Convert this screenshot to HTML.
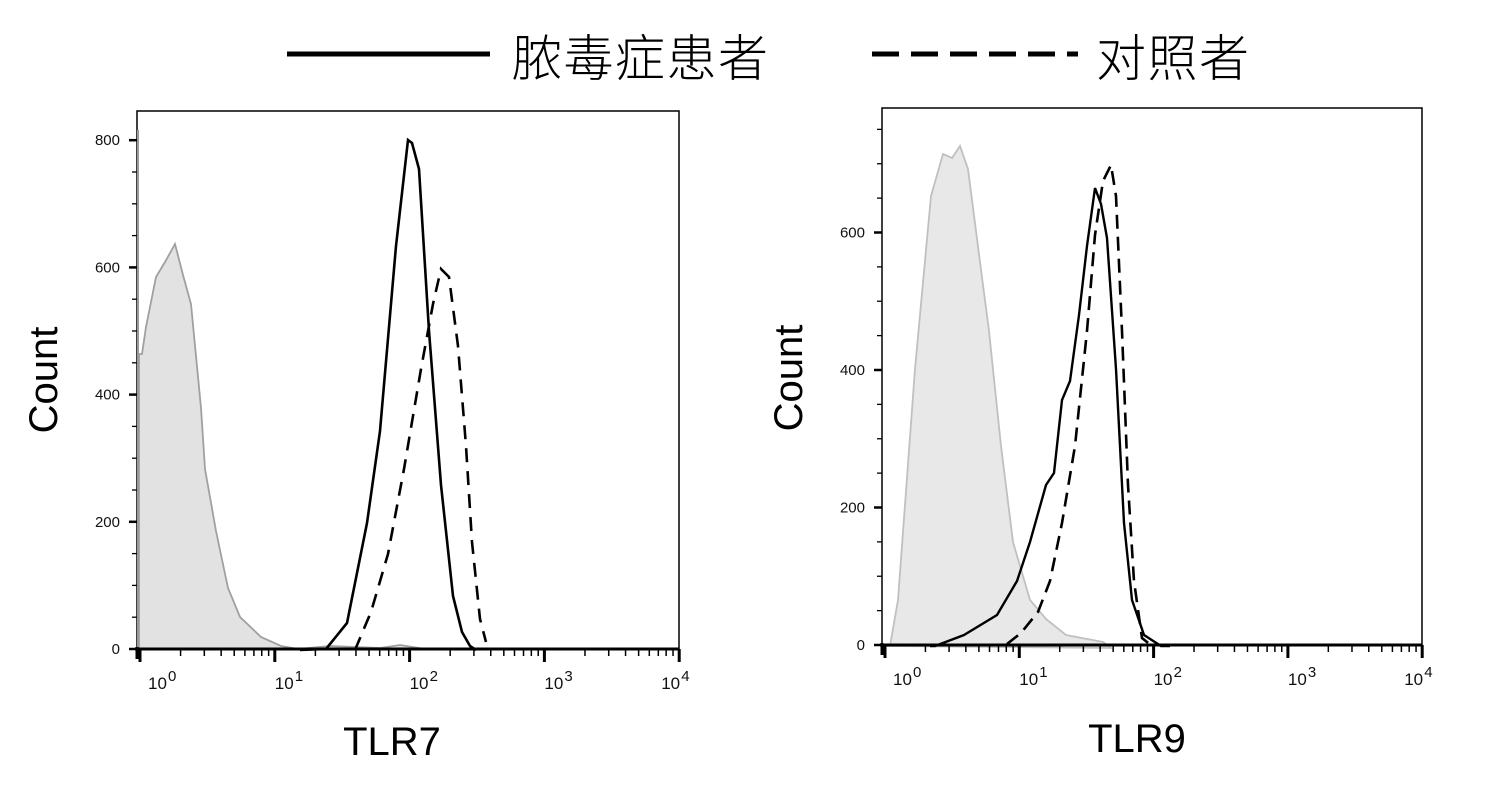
<!DOCTYPE html>
<html><head><meta charset="utf-8"><style>
html,body{margin:0;padding:0;background:#fff}
svg{display:block}
</style></head><body>
<svg id="s" width="1489" height="793" xmlns="http://www.w3.org/2000/svg" font-family="Liberation Sans, sans-serif">
<defs><filter id="sh"><feGaussianBlur stdDeviation="2"/></filter></defs>
<line x1="288" y1="58" x2="490" y2="58" stroke="#bbb" stroke-width="6" filter="url(#sh)"/>
<line x1="287" y1="54" x2="490" y2="54" stroke="#000" stroke-width="5"/>
<text x="512" y="76" font-size="50" letter-spacing="1.5" font-family="Liberation Sans, Noto Sans CJK SC, sans-serif" font-weight="300">脓毒症患者</text>
<line x1="873" y1="58" x2="1078" y2="58" stroke="#bbb" stroke-width="6" stroke-dasharray="27,12" filter="url(#sh)"/>
<line x1="872" y1="54" x2="1078" y2="54" stroke="#000" stroke-width="5" stroke-dasharray="27,12"/>
<text x="1096" y="76" font-size="50" letter-spacing="1.5" font-family="Liberation Sans, Noto Sans CJK SC, sans-serif" font-weight="300">对照者</text>
<text transform="translate(57,380) rotate(-90)" text-anchor="middle" font-size="40">Count</text>
<text transform="translate(802,378) rotate(-90)" text-anchor="middle" font-size="40">Count</text>
<text x="392" y="755" text-anchor="middle" font-size="40">TLR7</text>
<text x="1137" y="752" text-anchor="middle" font-size="40">TLR9</text>
<rect x="137" y="111" width="542" height="538" fill="none" stroke="#000" stroke-width="1.5"/>
<rect x="882" y="108" width="540" height="537" fill="none" stroke="#000" stroke-width="1.5"/>
<path d="M139,649 L139,354 L142,354 L146,327 L156,277 L165,262 L175,244 L183,275 L191,304 L201,408 L205,469 L216,531 L228,588 L240,617 L261,637 L281,646 L298,649 L330,646 L380,648 L400,645 L425,649 Z" fill="#e2e2e2" stroke="#a0a0a0" stroke-width="1.8"/>
<line x1="138" y1="130" x2="138" y2="649" stroke="#999" stroke-width="2"/>
<path d="M300,650 L326,649 L347,623 L367,523 L380,431 L396,246 L408,140 L412,143 L419,169 L429,331 L441,485 L453,596 L462,632 L470,646 L476,650" fill="none" stroke="#000" stroke-width="2.6"/>
<path d="M355,650 L371,612 L388,554 L404,469 L421,369 L433,304 L441,269 L449,277 L458,346 L466,446 L472,542 L480,619 L486,642" fill="none" stroke="#000" stroke-width="2.6" stroke-dasharray="14,9"/>
<path d="M885,646 L890,646 L898,600 L915,369 L931,196 L943,154 L952,158 L960,146 L968,169 L980,262 L989,331 L1001,446 L1013,542 L1030,600 L1046,619 L1066,635 L1103,642 L1111,648 Z" fill="#e8e8e8" stroke="#c0c0c0" stroke-width="1.8"/>
<path d="M930,646 L935,646 L964,635 L997,615 L1017,581 L1030,542 L1046,485 L1054,473 L1062,400 L1070,381 L1079,315 L1087,246 L1095,188 L1101,204 L1107,238 L1116,369 L1124,523 L1132,600 L1144,635 L1161,646 L1170,646" fill="none" stroke="#000" stroke-width="2.4"/>
<path d="M1007,644 L1021,633 L1038,612 L1050,581 L1062,523 L1075,446 L1087,331 L1095,235 L1103,181 L1111,165 L1116,196 L1122,331 L1128,485 L1134,581 L1142,638 L1152,646" fill="none" stroke="#000" stroke-width="2.6" stroke-dasharray="14,8"/>
<g id="ax"></g>
</svg>
<script>
var g=document.getElementById('ax'),NS='http://www.w3.org/2000/svg';
function L(x1,y1,x2,y2,w){var l=document.createElementNS(NS,'line');l.setAttribute('x1',x1);l.setAttribute('y1',y1);l.setAttribute('x2',x2);l.setAttribute('y2',y2);l.setAttribute('stroke','#000');l.setAttribute('stroke-width',w);g.appendChild(l);}
function T(x,y,s,fs,a){var t=document.createElementNS(NS,'text');t.setAttribute('x',x);t.setAttribute('y',y);t.setAttribute('font-size',fs);if(a)t.setAttribute('text-anchor',a);t.setAttribute('fill','#111');t.textContent=s;g.appendChild(t);return t;}
function axes(fx,fr,y0,ppu,max,x0,dec){
 L(fx-2,y0,fr,y0,3);
 L(fx,y0-2,fx,y0+10,3);
 for(var v=0;v<=max;v+=50){var y=y0-v*ppu;var maj=(v%200==0);L(fx-(maj?8:5),y,fx,y,maj?2.5:1.3);if(maj)T(fx-17,y+5,String(v),15,'end');}
 for(var d=0;d<4;d++){for(var k=2;k<=9;k++){var x=x0+dec*(d+Math.log10(k));L(x,y0,x,y0+7,1.5);}}
 for(var d=0;d<=4;d++){var x=x0+dec*d;L(x,y0,x,y0+13,3);
  var ox=(d==4)?-18:(d==0?8:0);
  T(x+ox,y0+40,'10',17);T(x+ox+20,y0+32,String(d),15);}
}
axes(137,679,649,127.2/200,800,140,134.8);
axes(882,1422,645,137.5/200,750,885,134.3);
</script>
</body></html>
